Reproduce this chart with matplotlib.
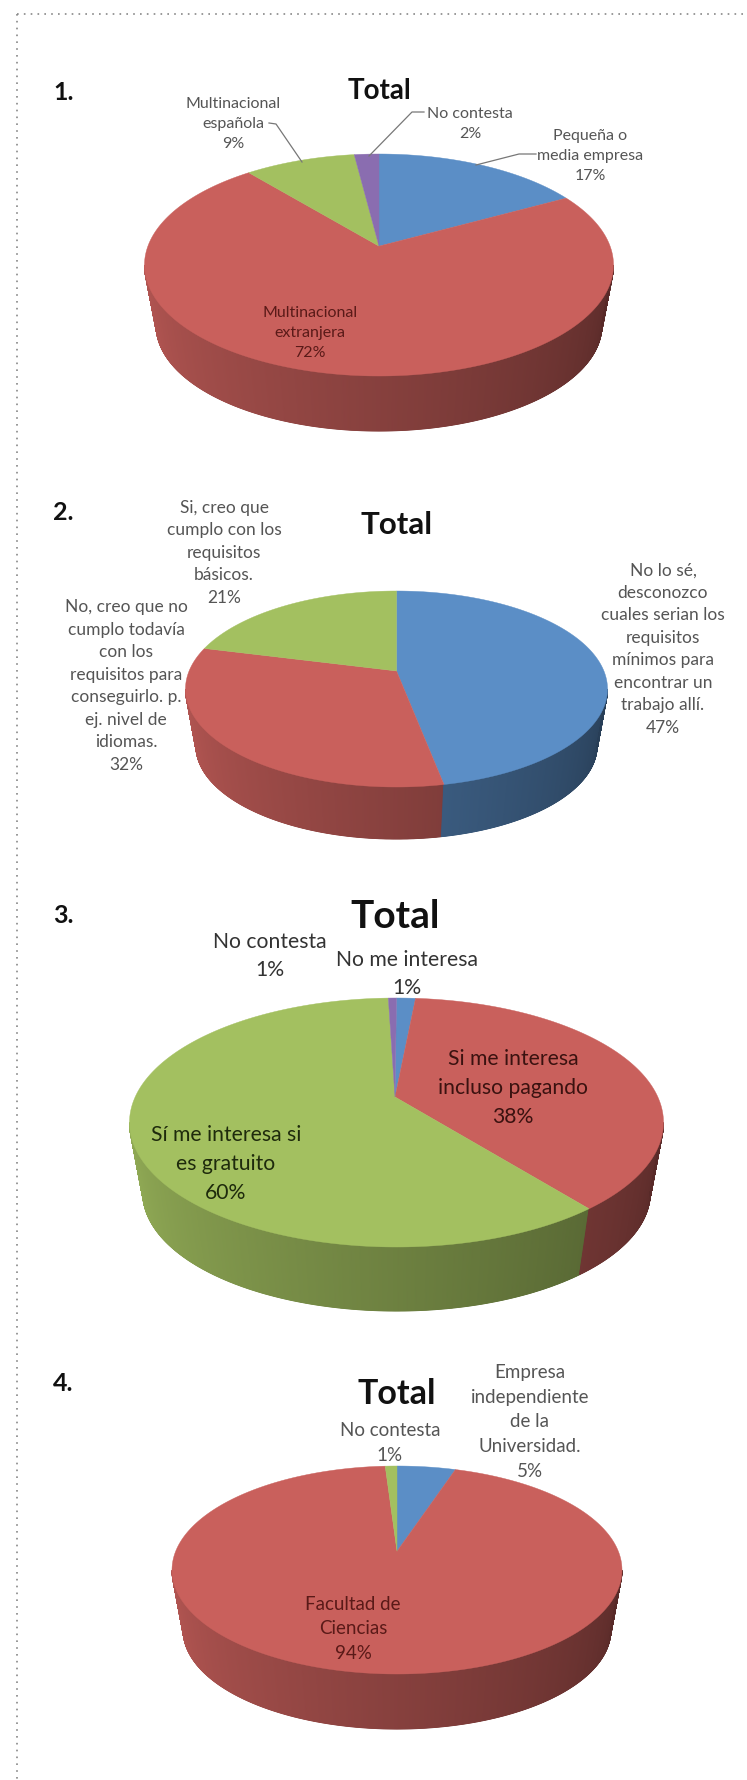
import numpy as np
import matplotlib
matplotlib.use('Agg')
import matplotlib.pyplot as plt

plt.rcParams['font.family'] = ['Lato', 'DejaVu Sans']

W, H = 747, 1781

BLUE = '#5b8ec6'
RED = '#c9605c'
GREEN = '#a3c060'
PURPLE = '#8a6db0'

# share of each slice, clockwise from the top
pie1_values = [17, 72, 9, 2]
pie1_colors = [BLUE, RED, GREEN, PURPLE]
pie2_values = [47, 32, 21]
pie2_colors = [BLUE, RED, GREEN]
pie3_values = [1.4, 38, 60, 0.6]
pie3_colors = [BLUE, RED, GREEN, PURPLE]
pie4_values = [5, 94, 1]
pie4_colors = [BLUE, RED, GREEN]

pie1_labels = ['Multinacional\nespañola\n9%', 'No contesta\n2%',
               'Pequeña o\nmedia empresa\n17%', 'Multinacional\nextranjera\n72%']
pie2_labels = ['Si, creo que\ncumplo con los\nrequisitos\nbásicos.\n21%',
               'No, creo que no\ncumplo todavía\ncon los\nrequisitos para\nconseguirlo. p.\nej. nivel de\nidiomas.\n32%',
               'No lo sé,\ndesconozco\ncuales serian los\nrequisitos\nmínimos para\nencontrar un\ntrabajo allí.\n47%']
pie3_labels = ['No contesta\n1%', 'No me interesa\n1%',
               'Si me interesa\nincluso pagando\n38%', 'Sí me interesa si\nes gratuito\n60%']
pie4_labels = ['Empresa\nindependiente\nde la\nUniversidad.\n5%', 'No contesta\n1%',
               'Facultad de\nCiencias\n94%']


def to_ellipse(theta, d):
    # tilted circle: the centre of the pie moves up by d, the rim stays on the ellipse
    x, y = np.cos(theta), np.sin(theta)
    den = 1 + d * y
    return x * np.sqrt(1 - d * d) / den, (y + d) / den


def slice_at(u, v, d, edges):
    den = 1 - d * v
    x = u * np.sqrt(1 - d * d) / den
    y = (v - d) / den
    pct = (90 - np.degrees(np.arctan2(y, x))) % 360 / 3.6
    return min(np.searchsorted(edges, pct), len(edges) - 1)


def draw_pie(ax, values, colors, cx, cy, rx, ry, d, bottom, apex_x=None):
    edges = np.cumsum(values) / float(sum(values)) * 100
    if apex_x is None:
        apex_x = cx

    # side wall first, light on the left and dark on the right
    rb = 0.95
    cyb = bottom - ry * rb
    phi = np.linspace(np.pi, 2 * np.pi, 721)
    mesh_x = np.array([cx + rx * np.cos(phi), cx + rx * rb * np.cos(phi)])
    mesh_y = np.array([cy - ry * np.sin(phi), cyb - ry * rb * np.sin(phi)])
    rgb = np.zeros((2, len(phi), 3))
    for k, p in enumerate(phi):
        i = slice_at(np.cos(p), np.sin(p), d, edges)
        f = 0.9 - 0.46 * (p - np.pi) / np.pi
        rgb[:, k] = np.array(matplotlib.colors.to_rgb(colors[i])) * f
    ax.pcolormesh(mesh_x, mesh_y, rgb, shading='gouraud')

    # top face
    start = 0
    for v, c in zip(values, colors):
        t0 = np.pi / 2 - start * 2 * np.pi / sum(values)
        t1 = np.pi / 2 - (start + v) * 2 * np.pi / sum(values)
        n = max(int(v * 4), 4)
        u_, v_ = to_ellipse(np.linspace(t0, t1, n), d)
        xs = np.r_[apex_x, cx + rx * u_]
        ys = np.r_[cy - ry * d, cy - ry * v_]
        ax.fill(xs, ys, color=c, lw=0.3)
        start += v


def label(ax, x, y, s, size, color='#555555', spacing=1.55, weight='normal'):
    ax.text(x, y, s, ha='center', va='center', fontsize=size, color=color,
            linespacing=spacing, fontweight=weight)


fig = plt.figure(figsize=(W / 100.0, H / 100.0), dpi=100)
ax = fig.add_axes([0, 0, 1, 1])

# dotted frame
ax.plot([17, W], [15.3, 15.3], color='#888888', lw=1.2, ls=(0, (1, 3.1)))
ax.plot([17, 17], [15.3, H], color='#888888', lw=1.2, ls=(0, (1, 3.1)))

# question numbers
for s, y in zip(['1.', '2.', '3.', '4.'], [92, 513, 916, 1384]):
    ax.text(53, y, s, fontsize=18, fontweight='bold', color='#111111', ha='left', va='center')

# 1
draw_pie(ax, pie1_values, pie1_colors, 379, 266, 234.5, 111, 0.17, 432)
ax.plot([269, 276, 302], [124, 125, 163], color='#777777', lw=0.9)
ax.plot([424, 412, 369], [113, 113, 157], color='#777777', lw=0.9)
ax.plot([536, 519, 476], [155, 155, 166], color='#777777', lw=0.9)
label(ax, 379, 91, 'Total', 20, '#111111', weight='bold')
label(ax, 233, 124, pie1_labels[0], 11.5)
label(ax, 470, 124, pie1_labels[1], 11.5)
label(ax, 590, 156, pie1_labels[2], 11.5)
label(ax, 310, 333, pie1_labels[3], 11.5, '#5a1a18')

# 2
draw_pie(ax, pie2_values, pie2_colors, 396.5, 690, 211, 98, 0.184, 840)
label(ax, 397, 525, 'Total', 22.5, '#111111', weight='bold')
label(ax, 224, 553, pie2_labels[0], 12.5, spacing=1.5)
label(ax, 126, 686, pie2_labels[1], 12.5, spacing=1.5)
label(ax, 663, 649, pie2_labels[2], 12.5, spacing=1.5)

# 3
draw_pie(ax, pie3_values, pie3_colors, 396.5, 1123.5, 267, 124.5, 0.205, 1312, 395)
label(ax, 395, 917, 'Total', 28, '#111111', weight='bold')
label(ax, 270, 956, pie3_labels[0], 15.2, '#333333')
label(ax, 407, 974, pie3_labels[1], 15.2, '#333333')
label(ax, 513, 1088, pie3_labels[2], 15.2, '#3a1210')
label(ax, 226, 1164, pie3_labels[3], 15.2, '#1e2a0c')

# 4
draw_pie(ax, pie4_values, pie4_colors, 397, 1571, 225, 104, 0.18, 1730)
label(ax, 397, 1394, 'Total', 24.5, '#111111', weight='bold')
label(ax, 530, 1422, pie4_labels[0], 13.5)
label(ax, 390, 1443, pie4_labels[1], 13.5)
label(ax, 353, 1629, pie4_labels[2], 13.5, '#5a1a18')

ax.set_xlim(0, W)
ax.set_ylim(H, 0)
ax.axis('off')

fig.savefig('out.png', dpi=100)
